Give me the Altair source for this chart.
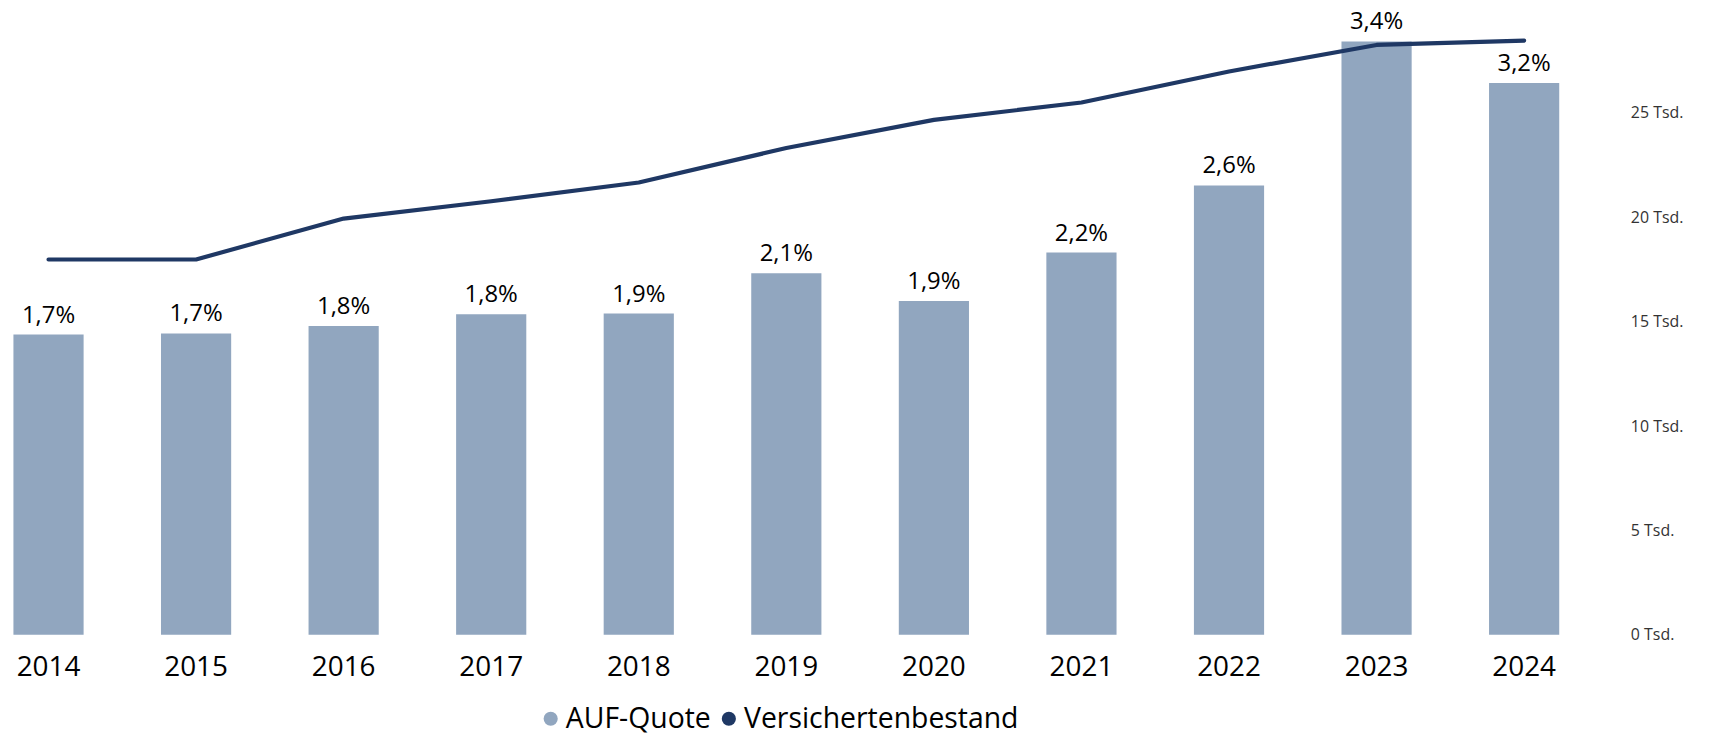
import altair as alt
import pandas as pd

# ---- data ----
years = ["2014", "2015", "2016", "2017", "2018", "2019", "2020", "2021", "2022", "2023", "2024"]
auf_quote = [1.730, 1.737, 1.780, 1.847, 1.852, 2.084, 1.924, 2.203, 2.590, 3.420, 3.180]
auf_labels = ["1,7%", "1,7%", "1,8%", "1,8%", "1,9%", "2,1%", "1,9%", "2,2%", "2,6%", "3,4%", "3,2%"]
versichertenbestand = [17980, 17980, 19940, 20770, 21670, 23320, 24670, 25500, 26990, 28260, 28470]
right_ticks = [0, 5000, 10000, 15000, 20000, 25000]
series = ["AUF-Quote", "Versichertenbestand"]
colors = ["#91A6BF", "#1F3864"]

FONT = "Open Sans"

df = pd.DataFrame({
    "Jahr": years,
    "Quote": auf_quote,
    "Label": auf_labels,
    "Bestand": versichertenbestand,
    "SerieBar": [series[0]] * len(years),
    "SerieLine": [series[1]] * len(years),
})

x_enc = alt.X(
    "Jahr:N",
    sort=years,
    title=None,
    scale=alt.Scale(paddingInner=0.5244, paddingOuter=0.0368),
    axis=alt.Axis(
        labelAngle=0,
        labelFont=FONT,
        labelFontSize=28,
        labelColor="#000000",
        labelPadding=19,
        ticks=False,
        domain=False,
        grid=False,
    ),
)

color_scale = alt.Scale(domain=series, range=colors)
quote_scale = alt.Scale(domain=[0, 3.597], nice=False, zero=True)

bars = alt.Chart(df).mark_bar(color=colors[0]).encode(
    x=x_enc,
    y=alt.Y("Quote:Q", scale=quote_scale, axis=None),
    color=alt.Color(
        "SerieBar:N",
        scale=color_scale,
        legend=alt.Legend(
            title=None,
            orient="none",
            legendX=531,
            legendY=697,
            direction="horizontal",
            symbolType="circle",
            symbolSize=201,
            symbolStrokeWidth=0,
            labelFont=FONT,
            labelFontSize=28.5,
            labelColor="#000000",
            labelOffset=1,
            labelLimit=400,
            columnPadding=3,
            padding=0,
        ),
    ),
)

labels = alt.Chart(df).mark_text(
    baseline="alphabetic", dy=-12, font=FONT, fontSize=24, color="#000000"
).encode(
    x=alt.X("Jahr:N", sort=years),
    y=alt.Y("Quote:Q", scale=quote_scale, axis=None),
    text="Label:N",
)

line = alt.Chart(df).mark_line(strokeWidth=4.2, strokeCap="round", strokeJoin="round").encode(
    x=alt.X("Jahr:N", sort=years),
    y=alt.Y(
        "Bestand:Q",
        scale=alt.Scale(domain=[0, 29900], nice=False, zero=True),
        axis=alt.Axis(
            orient="right",
            title=None,
            values=right_ticks,
            labelExpr="format(datum.value / 1000, 'd') + ' Tsd.'",
            labelFont=FONT,
            labelFontSize=16,
            labelColor="#333333",
            labelPadding=66,
            labelAlign="left",
            ticks=False,
            domain=False,
            grid=False,
        ),
    ),
    color=alt.Color("SerieLine:N", scale=color_scale, legend=None),
)

chart = (
    alt.layer(bars, line, labels)
    .resolve_scale(y="independent")
    .properties(
        width=1564,
        height=627,
        padding={"left": 0, "top": 1, "right": 139, "bottom": 99},
        autosize=alt.AutoSizeParams(type="none"),
        background="white",
    )
    .configure_view(stroke=None)
)

chart.save("out.html", embed_options={"renderer": "svg", "actions": False})
